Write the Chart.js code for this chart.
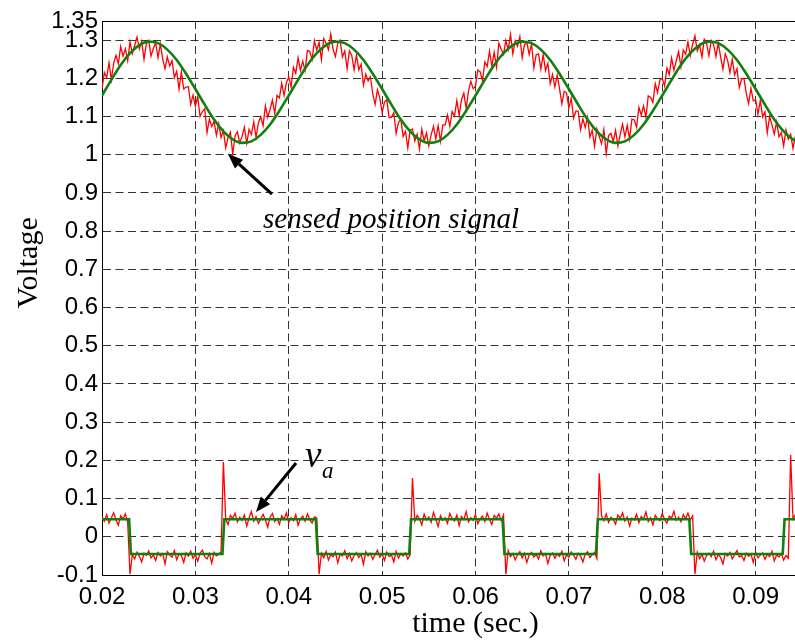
<!DOCTYPE html>
<html>
<head>
<meta charset="utf-8">
<script src="https://cdn.jsdelivr.net/npm/chart.js@4.4.1/dist/chart.umd.min.js"></script>
<style>
html, body { margin: 0; padding: 0; overflow: hidden; background: #fff; }
#wrap { position: relative; width: 870px; height: 643px; }
</style>
</head>
<body>
<div id="wrap"><canvas id="voltChart"></canvas></div>
<script>
// sample timing of the recorded traces (seconds)
const sampleStart = 0.02;
const redStep = 0.00025;
const greenStep = 0.001;

const xTicks = [0.02, 0.03, 0.04, 0.05, 0.06, 0.07, 0.08, 0.09, 0.1];
const xTickLabels = ['0.02', '0.03', '0.04', '0.05', '0.06', '0.07', '0.08', '0.09', '0.1'];
const yTicks = [-0.1, 0, 0.1, 0.2, 0.3, 0.4, 0.5, 0.6, 0.7, 0.8, 0.9, 1, 1.1, 1.2, 1.3, 1.35];
const yTickLabels = ['-0.1', '0', '0.1', '0.2', '0.3', '0.4', '0.5', '0.6', '0.7', '0.8', '0.9', '1', '1.1', '1.2', '1.3', '1.35'];

// sensed position signal, raw (red)
const sensedRaw = [
  1.172,1.215,1.202,1.241,1.196,1.240,1.260,1.238,1.283,1.258,
  1.277,1.246,1.295,1.265,1.286,1.308,1.277,1.297,1.250,1.291,
  1.299,1.258,1.278,1.293,1.254,1.290,1.251,1.225,1.256,1.232,
  1.246,1.202,1.218,1.172,1.217,1.172,1.177,1.178,1.132,1.156,
  1.127,1.152,1.100,1.113,1.120,1.058,1.093,1.074,1.087,1.051,
  1.081,1.045,1.063,1.018,1.045,1.059,1.002,1.049,1.060,1.031,
  1.048,1.072,1.030,1.066,1.053,1.086,1.045,1.084,1.099,1.076,
  1.128,1.098,1.119,1.143,1.108,1.155,1.149,1.187,1.155,1.189,
  1.203,1.177,1.229,1.213,1.254,1.220,1.245,1.220,1.273,1.270,
  1.249,1.298,1.274,1.294,1.249,1.304,1.292,1.275,1.316,1.276,
  1.257,1.292,1.300,1.256,1.272,1.225,1.272,1.259,1.222,1.261,
  1.222,1.237,1.182,1.211,1.193,1.204,1.159,1.132,1.170,1.149,
  1.111,1.138,1.144,1.097,1.098,1.110,1.056,1.084,1.093,1.048,
  1.061,1.018,1.065,1.067,1.036,1.054,1.015,1.067,1.036,1.057,
  1.023,1.052,1.074,1.041,1.076,1.035,1.078,1.078,1.104,1.074,
  1.113,1.101,1.142,1.103,1.144,1.161,1.121,1.167,1.192,1.173,
  1.179,1.222,1.217,1.194,1.243,1.231,1.271,1.232,1.268,1.229,
  1.292,1.276,1.263,1.299,1.275,1.315,1.264,1.298,1.284,1.309,
  1.254,1.288,1.294,1.262,1.290,1.227,1.262,1.264,1.224,1.262,
  1.220,1.239,1.186,1.210,1.177,1.208,1.173,1.133,1.166,1.162,
  1.122,1.148,1.096,1.114,1.114,1.065,1.094,1.071,1.098,1.046,
  1.064,1.022,1.068,1.048,1.029,1.066,1.003,1.050,1.056,1.034,
  1.064,1.023,1.053,1.080,1.047,1.077,1.041,1.093,1.091,1.072,
  1.124,1.104,1.128,1.098,1.154,1.150,1.137,1.186,1.163,1.196,
  1.200,1.180,1.227,1.210,1.253,1.221,1.246,1.270,1.230,1.274,
  1.263,1.295,1.259,1.289,1.311,1.272,1.287,1.256,1.302,1.291,
  1.259,1.299,1.288,1.257,1.293,1.256,1.224,1.264,1.247,1.215,
  1.250,1.209,1.225,1.176,1.198,1.200,1.160,1.134,1.174,1.141,
  1.144,1.106,1.142,1.099,1.112,1.057,1.100,1.078,1.054,1.086,
  1.047,1.058,1.023,1.065,1.041,1.054,1.017,1.048,1.055
];

// sensed position signal, reference (green)
const sensedRef = [
  1.155,1.196,1.235,1.266,1.287,1.296,1.292,1.275,1.248,1.212,
  1.172,1.131,1.092,1.061,1.040,1.031,1.035,1.052,1.079,1.115,
  1.155,1.196,1.235,1.266,1.287,1.296,1.292,1.275,1.248,1.212,
  1.172,1.131,1.092,1.061,1.040,1.031,1.035,1.052,1.079,1.115,
  1.155,1.196,1.235,1.266,1.287,1.296,1.292,1.275,1.248,1.212,
  1.172,1.131,1.092,1.061,1.040,1.031,1.035,1.052,1.079,1.115,
  1.155,1.196,1.235,1.266,1.287,1.296,1.292,1.275,1.248,1.212,
  1.172,1.131,1.092,1.061,1.040,1.031,1.035,1.052,1.079,1.115,
  1.155
];

// phase voltage va, raw (red)
const vaRaw = [
  0.052,0.041,0.058,0.036,0.049,0.063,0.044,0.030,0.055,0.047,
  0.060,0.038,-0.098,
  -0.046,-0.058,-0.040,-0.051,-0.066,-0.043,-0.049,
  -0.037,-0.055,-0.047,-0.062,-0.041,-0.050,-0.044,-0.071,-0.039,-0.048,
  -0.053,-0.036,-0.060,-0.045,-0.049,-0.067,-0.042,-0.051,-0.038,-0.056,
  -0.047,-0.064,-0.043,-0.035,-0.052,-0.058,-0.044,-0.069,-0.041,-0.050,
  -0.046,-0.039,0.196,
  0.045,0.032,0.056,0.048,0.062,0.039,0.051,
  0.043,0.057,0.028,0.049,0.066,0.041,0.053,0.035,0.047,0.059,
  0.044,0.025,0.052,0.061,0.040,0.048,0.033,0.055,0.046,0.063,
  0.038,0.050,0.042,0.058,0.030,0.047,0.054,0.041,0.060,0.045,
  0.036,0.052,0.049,-0.098,
  -0.043,-0.055,-0.038,-0.061,-0.047,-0.052,
  -0.040,-0.068,-0.045,-0.050,-0.036,-0.057,-0.044,-0.063,-0.049,-0.041,
  -0.054,-0.046,-0.072,-0.039,-0.050,-0.043,-0.059,-0.047,-0.035,-0.053,
  -0.045,-0.062,-0.040,-0.051,-0.048,-0.066,-0.038,-0.056,-0.044,-0.050,
  -0.042,-0.058,-0.047,0.154,
  0.040,0.056,0.047,0.031,0.059,0.044,
  0.052,0.038,0.064,0.046,0.027,0.055,0.043,0.050,0.035,0.061,
  0.048,0.041,0.057,0.029,0.053,0.045,0.066,0.039,0.050,0.043,
  0.058,0.034,0.047,0.054,0.040,0.062,0.045,0.032,0.056,0.049,
  0.060,0.042,0.057,-0.098,
  -0.036,-0.052,-0.044,-0.060,-0.047,-0.039,
  -0.055,-0.043,-0.067,-0.048,-0.041,-0.053,-0.046,-0.058,-0.037,-0.050,
  -0.044,-0.070,-0.049,-0.042,-0.056,-0.045,-0.051,-0.038,-0.063,-0.047,
  -0.053,-0.040,-0.048,-0.059,-0.043,-0.050,-0.066,-0.045,-0.039,-0.054,
  -0.047,-0.041,-0.057,0.166,
  0.055,0.042,0.060,0.038,0.051,0.046,
  0.033,0.057,0.048,0.063,0.041,0.052,0.028,0.049,0.044,0.059,
  0.037,0.053,0.046,0.065,0.040,0.050,0.031,0.056,0.047,0.042,
  0.061,0.045,0.036,0.054,0.049,0.067,0.043,0.051,0.039,0.058,
  0.047,0.062,0.044,0.055,-0.098,
  -0.040,-0.057,-0.046,-0.064,-0.049,
  -0.043,-0.052,-0.038,-0.060,-0.047,-0.054,-0.071,-0.044,-0.050,-0.041,
  -0.058,-0.046,-0.036,-0.053,-0.049,-0.062,-0.043,-0.051,-0.045,-0.067,
  -0.040,-0.055,-0.048,-0.042,-0.059,-0.046,-0.052,-0.038,-0.063,-0.047,
  -0.053,-0.044,-0.061,-0.049,-0.056,0.214,
  0.047,0.058,0.040
];

// phase voltage va, reference square wave (green)
const vaRefTime = [0.02, 0.0229, 0.0231, 0.0329, 0.0331, 0.0429, 0.0431, 0.0529, 0.0531,
  0.0629, 0.0631, 0.0729, 0.0731, 0.0829, 0.0831, 0.0929, 0.0931, 0.1];
const vaRefLevel = [0.046, 0.046, -0.045, -0.045, 0.046, 0.046, -0.045, -0.045, 0.046,
  0.046, -0.045, -0.045, 0.046, 0.046, -0.045, -0.045, 0.046, 0.046];

function sampled(values, step) {
  return values.map(function (v, i) { return { x: sampleStart + i * step, y: v }; });
}

function drawArrow(ctx, x1, y1, x2, y2) {
  var ang = Math.atan2(y2 - y1, x2 - x1);
  var len = 15, half = 6;
  var bx = x2 - len * Math.cos(ang), by = y2 - len * Math.sin(ang);
  ctx.beginPath();
  ctx.moveTo(x1, y1);
  ctx.lineTo(bx, by);
  ctx.lineWidth = 3;
  ctx.stroke();
  ctx.beginPath();
  ctx.moveTo(x2, y2);
  ctx.lineTo(bx + half * Math.sin(ang), by - half * Math.cos(ang));
  ctx.lineTo(bx - half * Math.sin(ang), by + half * Math.cos(ang));
  ctx.closePath();
  ctx.fill();
}

// box top edge, arrows and labels
const notes = {
  id: 'notes',
  afterDraw: function (chart) {
    var ctx = chart.ctx, a = chart.chartArea;
    var xs = chart.scales.x, ys = chart.scales.y;
    ctx.save();
    ctx.strokeStyle = '#000';
    ctx.fillStyle = '#000';
    ctx.lineWidth = 1;
    ctx.beginPath();
    ctx.moveTo(a.left, Math.round(a.top) + 0.5);
    ctx.lineTo(a.right, Math.round(a.top) + 0.5);
    ctx.stroke();

    drawArrow(ctx, xs.getPixelForValue(0.0382), ys.getPixelForValue(0.897),
      xs.getPixelForValue(0.03349), ys.getPixelForValue(1.002));
    drawArrow(ctx, xs.getPixelForValue(0.04078), ys.getPixelForValue(0.193),
      xs.getPixelForValue(0.03649), ys.getPixelForValue(0.065));

    ctx.textBaseline = 'alphabetic';
    ctx.textAlign = 'left';
    ctx.font = 'italic 29px "Liberation Serif"';
    ctx.fillText('sensed position signal', xs.getPixelForValue(0.03724), ys.getPixelForValue(0.808));
    ctx.font = 'italic 37px "Liberation Serif"';
    ctx.fillText('v', xs.getPixelForValue(0.04174), ys.getPixelForValue(0.183));
    ctx.font = 'italic 23px "Liberation Serif"';
    ctx.fillText('a', xs.getPixelForValue(0.04356), ys.getPixelForValue(0.154));

    ctx.translate(29, ys.getPixelForValue(0.717));
    ctx.rotate(-Math.PI / 2);
    ctx.textAlign = 'center';
    ctx.textBaseline = 'middle';
    ctx.font = '30px "Liberation Serif"';
    ctx.fillText('Voltage', 0, 0);
    ctx.restore();
  }
};

const gridStyle = { color: '#333', lineWidth: 1, drawTicks: false };
const borderStyle = { color: '#000', width: 1, dash: [8, 4.5] };
const tickFont = { family: '"Liberation Sans", Arial, sans-serif', size: 24 };

new Chart(document.getElementById('voltChart').getContext('2d'), {
  type: 'line',
  data: {
    datasets: [
      {
        label: 'sensed ref',
        data: sampled(sensedRef, greenStep),
        borderColor: '#108010',
        borderWidth: 2.6,
        pointRadius: 0,
        cubicInterpolationMode: 'monotone',
        order: 0
      },
      {
        label: 'va ref',
        data: vaRefTime.map(function (t, i) { return { x: t, y: vaRefLevel[i] }; }),
        borderColor: '#108010',
        borderWidth: 2.6,
        pointRadius: 0,
        tension: 0,
        order: 1
      },
      {
        label: 'sensed',
        data: sampled(sensedRaw, redStep),
        borderColor: '#ff0000',
        borderWidth: 1.3,
        pointRadius: 0,
        tension: 0,
        order: 2
      },
      {
        label: 'va',
        data: sampled(vaRaw, redStep),
        borderColor: '#ff0000',
        borderWidth: 1.3,
        pointRadius: 0,
        tension: 0,
        order: 3
      }
    ]
  },
  options: {
    responsive: true,
    maintainAspectRatio: false,
    animation: false,
    events: [],
    layout: { padding: { left: 0, top: 21, right: 21, bottom: 0 } },
    plugins: { legend: { display: false }, tooltip: { enabled: false } },
    scales: {
      x: {
        type: 'linear',
        min: 0.02,
        max: 0.1,
        grid: gridStyle,
        border: borderStyle,
        afterBuildTicks: function (s) { s.ticks = xTicks.map(function (v) { return { value: v }; }); },
        afterFit: function (s) { s.height = 68; s.paddingLeft = 0; s.paddingRight = 0; },
        ticks: {
          autoSkip: false,
          maxRotation: 0,
          padding: 8,
          color: '#000',
          font: tickFont,
          callback: function (v, i) { return xTickLabels[i]; }
        },
        title: {
          display: true,
          text: 'time (sec.)',
          color: '#000',
          font: { family: '"Liberation Serif", "Times New Roman", serif', size: 30 },
          padding: { top: 0, bottom: 1 }
        }
      },
      y: {
        type: 'linear',
        min: -0.1,
        max: 1.35,
        grid: gridStyle,
        border: borderStyle,
        afterBuildTicks: function (s) { s.ticks = yTicks.map(function (v) { return { value: v }; }); },
        afterFit: function (s) { s.width = 102; s.paddingTop = 0; s.paddingBottom = 0; },
        ticks: {
          autoSkip: false,
          padding: 4,
          color: '#000',
          font: tickFont,
          callback: function (v, i) { return yTickLabels[i]; }
        }
      }
    }
  },
  plugins: [notes]
});
</script>
</body>
</html>
